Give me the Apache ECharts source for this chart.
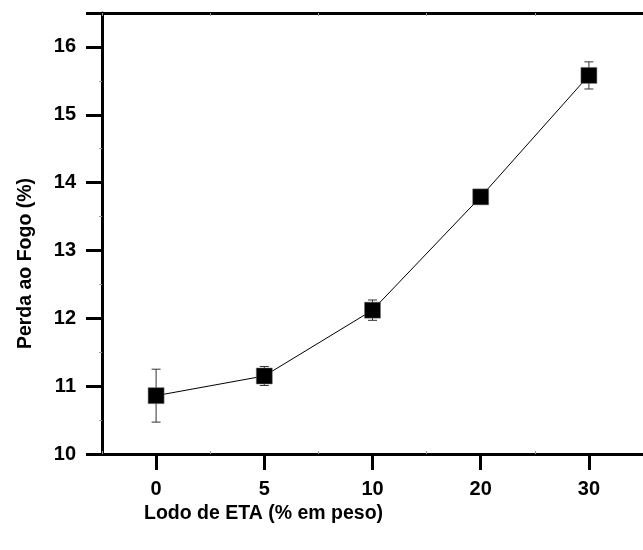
<!DOCTYPE html>
<html>
<head>
<meta charset="utf-8">
<script src="https://cdn.jsdelivr.net/npm/echarts@6/dist/echarts.min.js"></script>
<style>
  html, body { margin: 0; padding: 0; background: #fff; }
  #container { width: 643px; height: 550px; }
</style>
</head>
<body>
<div id="container"></div>
<script>
var dom = document.getElementById('container');
var myChart = echarts.init(dom, null, { renderer: 'canvas' });

// data
const categories = ['0', '5', '10', '20', '30'];
const perda = [10.86, 11.15, 12.12, 13.79, 15.58];
const erro = [0.39, 0.14, 0.15, 0.05, 0.2];

const FONT = 'Liberation Sans, Arial, sans-serif';

const errData = categories.map((c, i) => [i, perda[i] - erro[i], perda[i] + erro[i]]);

var option = {
  animation: false,
  backgroundColor: '#fff',
  grid: { left: 102, top: 13, width: 546, height: 441, containLabel: false },
  xAxis: [{
    type: 'category',
    data: categories,
    boundaryGap: true,
    name: 'Lodo de ETA (% em peso)',
    nameLocation: 'middle',
    nameGap: 46,
    nameTextStyle: { fontFamily: FONT, fontSize: 19.5, fontWeight: 'bold', color: '#000', padding: [0, 218, 0, 0] },
    axisLine: { show: true, lineStyle: { color: '#000', width: 3 } },
    axisTick: { show: true, alignWithLabel: true, length: 16, lineStyle: { color: '#000', width: 3 } },
    axisLabel: { fontFamily: FONT, fontSize: 20, fontWeight: 'bold', color: '#000', margin: 25 },
    splitLine: { show: false }
  }, {
    // minor ticks at band boundaries
    type: 'category',
    data: categories,
    position: 'bottom',
    axisLine: { show: false },
    axisTick: { show: true, inside: true, length: 3, lineStyle: { color: '#999', width: 1 } },
    axisLabel: { show: false }
  }, {
    type: 'category',
    data: categories,
    position: 'top',
    axisLine: { show: true, lineStyle: { color: '#000', width: 3 } },
    axisTick: { show: true, inside: true, length: 3, lineStyle: { color: '#999', width: 1 } },
    axisLabel: { show: false }
  }],
  yAxis: {
    type: 'value',
    min: 10,
    max: 16.5,
    interval: 1,
    name: 'Perda ao Fogo (%)',
    nameLocation: 'middle',
    nameGap: 66,
    nameTextStyle: { fontFamily: FONT, fontSize: 19.5, fontWeight: 'bold', color: '#000', padding: [0, 60, 0, 0] },
    axisLine: { show: true, lineStyle: { color: '#000', width: 3 } },
    axisTick: { show: true, length: 16, lineStyle: { color: '#000', width: 3 } },
    minorTick: { show: true, splitNumber: 2, length: 3, lineStyle: { color: '#999', width: 1 } },
    axisLabel: {
      fontFamily: FONT, fontSize: 20, fontWeight: 'bold', color: '#000', margin: 26,
      formatter: v => (v % 1 === 0 ? String(v) : '')
    },
    splitLine: { show: false }
  },
  series: [{
    type: 'custom',
    z: 1,
    renderItem: function (params, api) {
      const x = api.value(0);
      const lo = api.coord([x, api.value(1)]);
      const hi = api.coord([x, api.value(2)]);
      const cap = 4.5;
      const style = { stroke: '#333', lineWidth: 1 };
      return {
        type: 'group',
        children: [
          { type: 'line', shape: { x1: lo[0], y1: lo[1], x2: hi[0], y2: hi[1] }, style: style },
          { type: 'line', shape: { x1: lo[0] - cap, y1: lo[1], x2: lo[0] + cap, y2: lo[1] }, style: style },
          { type: 'line', shape: { x1: hi[0] - cap, y1: hi[1], x2: hi[0] + cap, y2: hi[1] }, style: style }
        ]
      };
    },
    encode: { x: 0, y: [1, 2] },
    data: errData
  }, {
    type: 'line',
    z: 3,
    data: perda,
    symbol: 'rect',
    symbolSize: 16,
    lineStyle: { color: '#000', width: 1 },
    itemStyle: { color: '#000', borderColor: '#777', borderWidth: 0.5 }
  }]
};

myChart.setOption(option);
window.addEventListener('resize', myChart.resize);
</script>
</body>
</html>
